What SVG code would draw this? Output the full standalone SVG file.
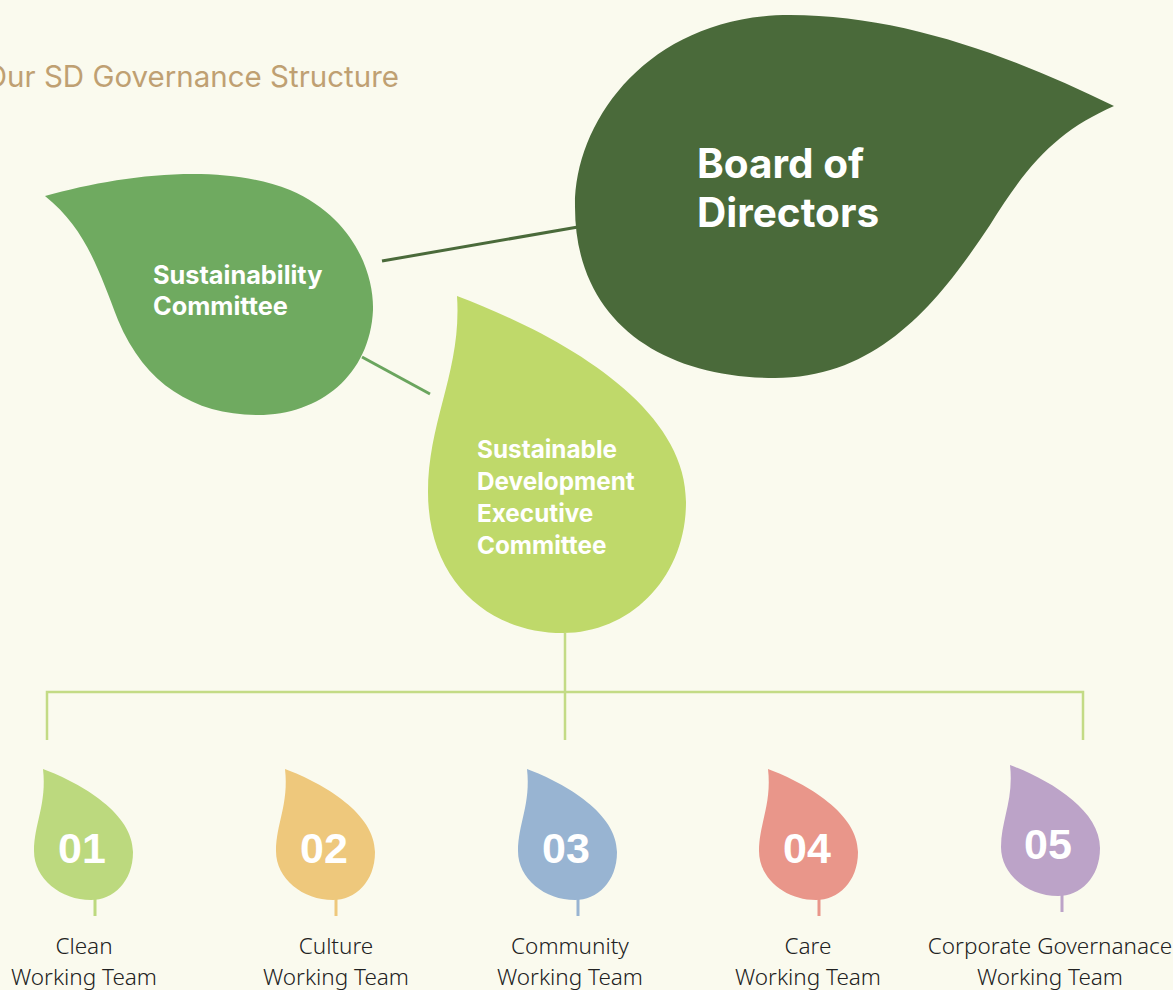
<svg xmlns="http://www.w3.org/2000/svg" width="1173" height="990" viewBox="0 0 1173 990">
<defs>
<style>
.bold{font-family:Inter,"Liberation Sans",sans-serif;font-weight:bold;fill:#ffffff}
.num{font-family:"Liberation Sans",Arial,sans-serif;font-weight:bold;fill:#ffffff;font-size:43px;text-anchor:middle}
.lab{font-family:"Noto Sans","Open Sans",sans-serif;font-weight:300;fill:#222222;font-size:22.5px;text-anchor:middle}
.br{stroke:#c3db85;stroke-width:2.5;fill:none}
</style>
<path id="small" d="M0,0 C40,15 90,45 90,83 C90,113 70,131 48,131 C18,131 -9,110 -9,82 C-9,55 4,35 0,0 Z"/>
</defs>
<rect width="1173" height="990" fill="#fafaee"/>
<text x="399" y="87" font-family="Inter,'Liberation Sans',sans-serif" font-size="29.5" fill="#bfa072" text-anchor="end">Our SD Governance Structure</text>

<g id="connectors">
<line x1="382" y1="261" x2="578" y2="227" stroke="#4a6a3a" stroke-width="3"/>
<line x1="362" y1="357" x2="430" y2="394" stroke="#6aa55e" stroke-width="3"/>
<path class="br" d="M565,633 V740 M47,740 V692 H1083 V740"/>
<line x1="95" y1="898" x2="95" y2="916" stroke="#bcd97e" stroke-width="3"/>
<line x1="336" y1="898" x2="336" y2="916" stroke="#eec87c" stroke-width="3"/>
<line x1="578" y1="898" x2="578" y2="916" stroke="#98b4d2" stroke-width="3"/>
<line x1="819" y1="898" x2="819" y2="916" stroke="#e9968a" stroke-width="3"/>
<line x1="1062" y1="894" x2="1062" y2="912" stroke="#bca3c8" stroke-width="3"/>
</g>

<g id="board">
<path d="M1114,106 C1010,55 900,15 790,15 C650,15 574,120 575,207 C575,320 660,378 775,378 C880,378 940,300 990,225 C1030,160 1060,130 1114,106 Z" fill="#4a6a3a"/>
<text class="bold" font-size="40.5"><tspan x="697" y="178">Board of</tspan><tspan x="697" y="227">Directors</tspan></text>
</g>

<g id="sustainability">
<path d="M45,196 C120,175 220,162 290,190 C355,218 374,275 373,310 C370,375 320,415 258,415 C195,415 145,385 118,320 C98,268 85,228 45,196 Z" fill="#6faa60"/>
<text class="bold" font-size="25.3"><tspan x="153" y="284">Sustainability</tspan><tspan x="153" y="315">Committee</tspan></text>
</g>

<g id="sdec">
<path d="M457,296 C560,335 686,405 686,502 C686,578 630,633 563,633 C490,633 428,582 428,492 C428,420 462,370 457,296 Z" fill="#bfd96a"/>
<text class="bold" font-size="24.3"><tspan x="477" y="458">Sustainable</tspan><tspan x="477" y="490">Development</tspan><tspan x="477" y="522">Executive</tspan><tspan x="477" y="554">Committee</tspan></text>
</g>

<g id="team01">
<use href="#small" x="43" y="769" fill="#bcd97e"/>
<text class="num" x="82" y="863">01</text>
<text class="lab"><tspan x="84" y="954">Clean</tspan><tspan x="84" y="985">Working Team</tspan></text>
</g>
<g id="team02">
<use href="#small" x="285" y="769" fill="#eec87c"/>
<text class="num" x="324" y="863">02</text>
<text class="lab"><tspan x="336" y="954">Culture</tspan><tspan x="336" y="985">Working Team</tspan></text>
</g>
<g id="team03">
<use href="#small" x="527" y="769" fill="#98b4d2"/>
<text class="num" x="566" y="863">03</text>
<text class="lab"><tspan x="570" y="954">Community</tspan><tspan x="570" y="985">Working Team</tspan></text>
</g>
<g id="team04">
<use href="#small" x="768" y="769" fill="#e9968a"/>
<text class="num" x="807" y="863">04</text>
<text class="lab"><tspan x="808" y="954">Care</tspan><tspan x="808" y="985">Working Team</tspan></text>
</g>
<g id="team05">
<use href="#small" x="1010" y="765" fill="#bca3c8"/>
<text class="num" x="1048" y="859">05</text>
<text class="lab"><tspan x="1050" y="954">Corporate Governanace</tspan><tspan x="1050" y="985">Working Team</tspan></text>
</g>
</svg>
